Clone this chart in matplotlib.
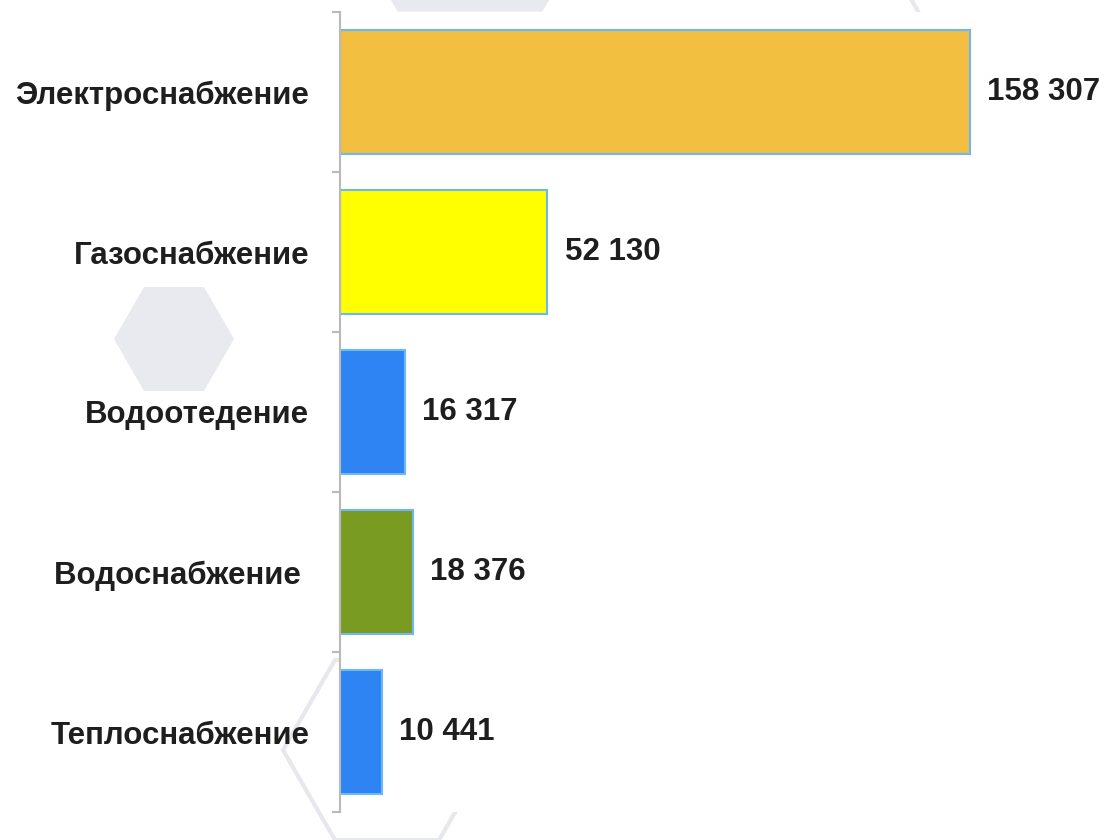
import matplotlib.pyplot as plt
import numpy as np
from matplotlib.patches import Polygon

plt.rcParams.update({'font.family': ['Liberation Sans', 'DejaVu Sans']})

# данные
categories = ['Электроснабжение', 'Газоснабжение', 'Водоотедение', 'Водоснабжение ', 'Теплоснабжение']
values = [158307, 52130, 16317, 18376, 10441]
value_labels = ['158 307', '52 130', '16 317', '18 376', '10 441']
colors = ['#f3bf40', '#ffff00', '#2d84f2', '#7a9b22', '#2d84f2']

W, H = 1107, 840
fig = plt.figure(figsize=(W / 100, H / 100), dpi=100)


def hexagon(cx, cy, r, filled=True):
    # плоский верх, координаты в пикселях от верхнего левого угла
    ang = np.deg2rad(np.arange(0, 360, 60))
    xs = (cx + r * np.cos(ang)) / W
    ys = 1 - (cy + r * np.sin(ang)) / H
    if filled:
        p = Polygon(np.c_[xs, ys], closed=True, transform=fig.transFigure,
                    facecolor='#e9eaef', edgecolor='none', zorder=-1)
    else:
        p = Polygon(np.c_[xs, ys], closed=True, transform=fig.transFigure,
                    facecolor='none', edgecolor='#e7e8ed', linewidth=3, zorder=-1)
    fig.add_artist(p)


# фоновые шестиугольники
hexagon(174, 339, 60)
hexagon(470, -114, 145)
hexagon(387, 750, 104, filled=False)
hexagon(1022, -155, 200, filled=False)

ax = fig.add_axes([340 / W, 1 - 812 / H, 1 - 340 / W, (812 - 12) / H])
ax.set_facecolor('white')

y = np.arange(len(categories))
ax.barh(y, values, height=0.77, color=colors, edgecolor='#6cb8f5', linewidth=1.5, zorder=2)

for yi, v, lab in zip(y, values, value_labels):
    ax.text(v + 4300, yi, lab, va='center', ha='left', fontsize=22.5,
            fontweight='bold', color='#1e1e1e')

ax.set_xlim(0, 192700)
ax.set_ylim(len(categories) - 0.5, -0.5)

# границы категорий — основные деления, подписи — дополнительные
ax.set_yticks(np.arange(-0.5, len(categories), 1.0))
ax.set_yticklabels([])
ax.set_yticks(y, minor=True)
ax.set_yticklabels(categories, minor=True, fontsize=22.5, fontweight='bold', color='#1e1e1e')
ax.tick_params(axis='y', which='major', length=6, width=1.5, color='#b9b9b9', direction='out')
ax.tick_params(axis='y', which='minor', length=0, pad=22)
ax.set_xticks([])

for s in ['top', 'right', 'bottom']:
    ax.spines[s].set_visible(False)
ax.spines['left'].set_color('#b9b9b9')
ax.spines['left'].set_linewidth(1.5)

fig.savefig('out.png', dpi=100)
